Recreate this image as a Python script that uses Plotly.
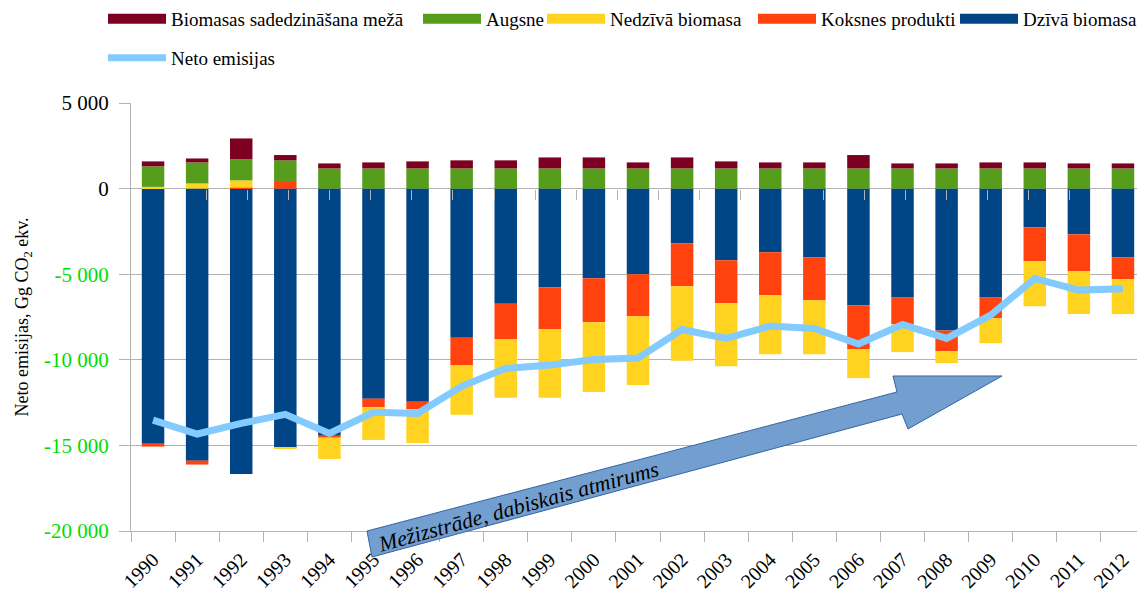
import plotly.graph_objects as go

years = [str(y) for y in range(1990, 2013)]

dziva_biomasa = [-14900, -15890, -16670, -15130, -14430, -12270, -12450, -8715, -6730, -5760,
                 -5230, -5000, -3190, -4180, -3720, -4010, -6810, -6340, -8290, -6340,
                 -2260, -2670, -4010]
koksnes_produkti = [-170, -230, 50, 385, -120, -490, -440, -1595, -2060, -2450,
                    -2570, -2450, -2510, -2510, -2510, -2510, -2570, -1580, -1200, -1230,
                    -1980, -2160, -1280]
nedziva_biomasa = [100, 300, 430, -80, -1240, -1920, -1970, -2900, -3420, -4000,
                   -4080, -4025, -4360, -3680, -3440, -3150, -1690, -1630, -700, -1460,
                   -2630, -2500, -2040]
augsne = [1200, 1230, 1230, 1265, 1180, 1180, 1180, 1180, 1180, 1180,
          1180, 1180, 1180, 1180, 1180, 1180, 1180, 1180, 1180, 1180,
          1180, 1180, 1180]
biomasas_sadedz = [290, 230, 1220, 310, 290, 350, 410, 470, 470, 640,
                   640, 350, 640, 410, 350, 350, 780, 290, 290, 350,
                   350, 290, 290]
neto_emisijas = [-13520, -14335, -13710, -13190, -14300, -13070, -13130, -11550, -10500, -10310,
                 -9980, -9900, -8230, -8750, -8030, -8170, -9080, -7940, -8750, -7390,
                 -5250, -5930, -5850]

ytick_vals = [-20000, -15000, -10000, -5000, 0, 5000]
ytick_text = ["-20 000", "-15 000", "-10 000", "-5 000", "0", "5 000"]

FONT = "Liberation Serif"
GRID = "#b3b3b3"
NEG_GREEN = "#00dd00"

# page offset (body margin of the html page)
OFF = 8
W, H = 1145, 594
# desired plot area in page pixels
PL, PR, PT, PB = 131, 1145, 103, 531
ML, MT = PL - OFF, PT - OFF
MR = W - (PR - OFF)
MB = H - (PB - OFF)
PW, PH = PR - PL, PB - PT


def px2paper(px, py):
    # page pixel -> paper fraction
    return (px - PL) / PW, (PB - py) / PH


fig = go.Figure()

bar_series = [
    ("Dzīvā biomasa", dziva_biomasa, "#004586", "legend5"),
    ("Koksnes produkti", koksnes_produkti, "#ff420e", "legend4"),
    ("Nedzīvā biomasa", nedziva_biomasa, "#ffd320", "legend3"),
    ("Augsne", augsne, "#579d1c", "legend2"),
    ("Biomasas sadedzināšana mežā", biomasas_sadedz, "#7e0021", "legend"),
]
for name, vals, col, lg in bar_series:
    fig.add_trace(go.Bar(x=years, y=vals, name=name, marker=dict(color=col, line=dict(width=0)),
                         showlegend=False, legendgroup=name))

fig.add_trace(go.Scatter(x=years, y=neto_emisijas, name="Neto emisijas", mode="lines",
                         line=dict(color="#83caff", width=7), legend="legend6"))

# legend entries with wide rectangular swatches (no data drawn)
for name, vals, col, lg in bar_series:
    fig.add_trace(go.Scatter(x=[None], y=[None], mode="lines", name=name, legend=lg,
                             legendgroup=name, line=dict(color=col, width=12),
                             hoverinfo="skip"))

# invisible helper trace so the zero-line tick axis is drawn
fig.add_trace(go.Scatter(x=years, y=neto_emisijas, xaxis="x2", mode="markers",
                         marker=dict(opacity=0), showlegend=False, hoverinfo="skip"))

# legends positioned like the reference
legend_starts = {"legend": (103, 19), "legend2": (418, 19), "legend3": (542, 19),
                 "legend4": (753, 19), "legend5": (955, 19), "legend6": (103, 58)}
leg_layout = {}
for key, (lx, ly) in legend_starts.items():
    x, y = px2paper(lx, ly)
    leg_layout[key] = dict(x=x, y=y, xanchor="left", yanchor="middle", orientation="h",
                           font=dict(family=FONT, size=19, color="black"),
                           bgcolor="rgba(0,0,0,0)", borderwidth=0, itemwidth=58)
fig.update_layout(**leg_layout)

# arrow shape (decoration)
arrow_px = [(367, 531), (897, 392), (893, 376), (1002, 376), (908, 429), (902, 414), (372, 557)]
pts = [px2paper(a, b) for a, b in arrow_px]
path = "M " + " L ".join(f"{x:.5f},{y:.5f}" for x, y in pts) + " Z"
fig.add_shape(type="path", path=path, xref="paper", yref="paper",
              fillcolor="#729fcf", line=dict(color="#3465a4", width=1), layer="above")
tx, ty = px2paper(518, 506)
fig.add_annotation(x=tx, y=ty, xref="paper", yref="paper", xanchor="center", yanchor="middle",
                   text="<i>Mežizstrāde, dabiskais atmirums</i>",
                   showarrow=False, textangle=-15.3, font=dict(family=FONT, size=22, color="black"))

yt = []
for v, t in zip(ytick_vals, ytick_text):
    col = NEG_GREEN if v < 0 else "black"
    yt.append(f"<span style='color:{col}'>{t}</span>")

fig.update_layout(
    width=W, height=H,
    margin=dict(l=ML, r=MR, t=MT, b=MB, autoexpand=False),
    barmode="relative", bargap=0.49,
    plot_bgcolor="white", paper_bgcolor="white",
    font=dict(family=FONT, size=19, color="black"),
    xaxis=dict(type="category", categoryorder="array", categoryarray=years,
               tickangle=-45, ticks="outside", tickson="boundaries", ticklen=10,
               tickcolor=GRID, showline=True, linecolor=GRID, showgrid=False,
               ticklabelstandoff=8,
               tickfont=dict(family=FONT, size=20, color="black")),
    xaxis2=dict(type="category", categoryorder="array", categoryarray=years,
                overlaying="x", anchor="free", position=0.8, side="bottom",
                ticks="outside", tickson="boundaries", ticklen=10, tickcolor=GRID,
                showticklabels=False, showline=False, showgrid=False),
    yaxis=dict(range=[-20000, 5000], tickvals=ytick_vals, ticktext=yt,
               ticks="outside", ticklen=11, tickcolor=GRID, showline=True, linecolor=GRID,
               gridcolor=GRID, gridwidth=1, zeroline=False, ticklabelstandoff=6,
               tickfont=dict(family=FONT, size=21, color="black"),
               title=dict(text="Neto emisijas, Gg CO<sub>2</sub> ekv.", standoff=10,
                          font=dict(family=FONT, size=18, color="black"))),
)

fig.write_html("out.html")
